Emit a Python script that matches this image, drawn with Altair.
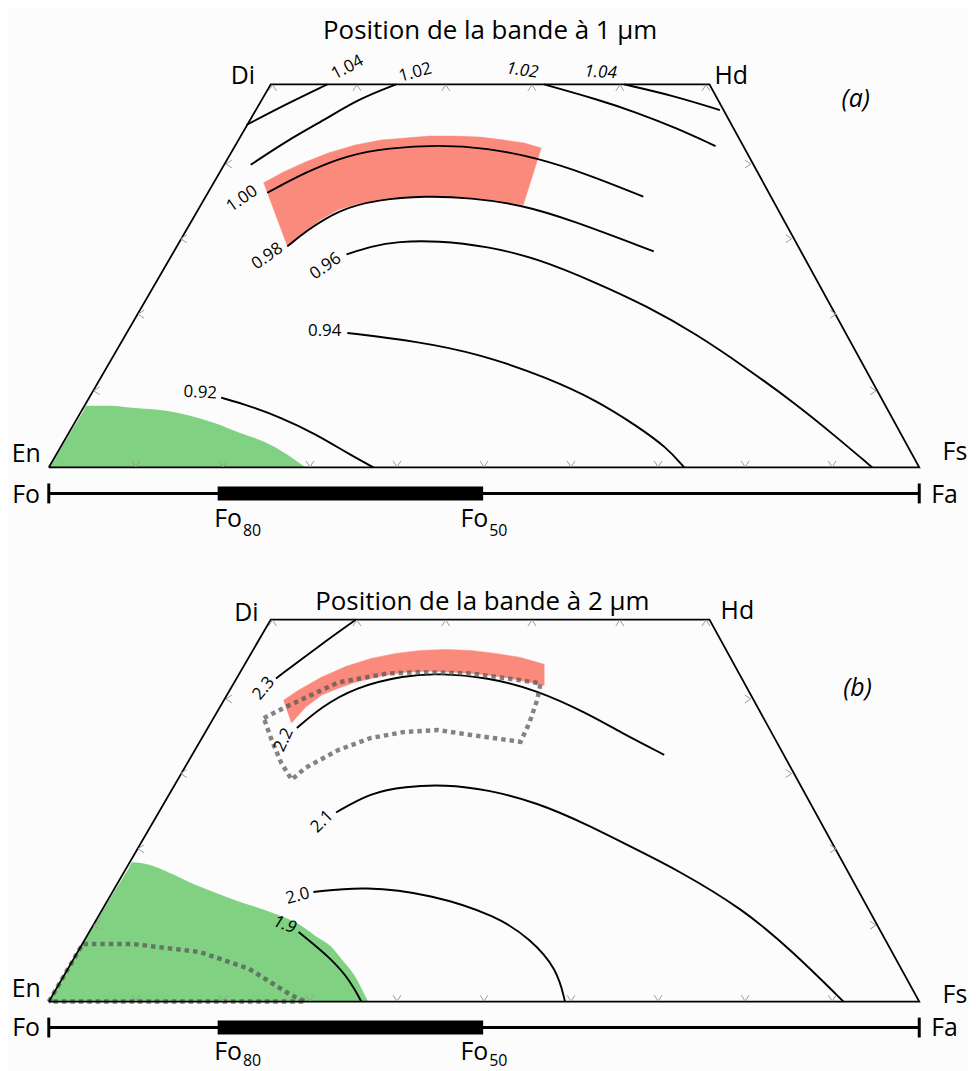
import altair as alt
import pandas as pd

# ---------------------------------------------------------------
# Plot units: x = 0 (En) .. 100 (Fs) along the base line,
#             y = 0 (base) .. 100 (Di-Hd edge, Wo50)
# ---------------------------------------------------------------
RED = "#fa8a7c"
GREEN = "#80d182"
FONT = "Open Sans"

FRAME_X = [0, 25.5, 75.9, 100, 0]
FRAME_Y = [0, 100, 100, 0, 0]

TICK_BOTTOM_X = [10, 20, 30, 40, 50, 60, 70, 80, 90]
TICK_TOP_X = [25.7, 35.4, 45.6, 55.5, 65.6, 75.5]
TICK_LEFT_X = [20.7, 15.5, 10.6, 5.5]
TICK_RIGHT_X = [80.3, 85.0, 90.1, 94.7]
TICK_SIDE_Y = [79.2, 59.7, 40.0, 20.0]

OLIVINE_Y = -6.8
OLIVINE_RANGE = [0, 100]
OLIVINE_RANGE_HI = [19.4, 49.9]      # Fo80 .. Fo50

# ---------------- panel (a) : 1 um band ----------------
A_C104L_X = [22.7, 27.5, 32.0]
A_C104L_Y = [89.4, 95.1, 100]
A_C102L_X = [23.2, 27.5, 31.8, 35.5, 39.9]
A_C102L_Y = [79.0, 85.5, 90.9, 96.1, 100]
A_C102R_X = [56.9, 63.0, 67.5, 72.1, 76.6]
A_C102R_Y = [100, 96.1, 92.7, 88.6, 83.9]
A_C104R_X = [66.1, 71.7, 77.1]
A_C104R_Y = [100, 97.1, 93.3]
A_C100_X = [25.1, 29.5, 34.4, 39.0, 44.7, 50.4, 56.1, 61.8, 68.3]
A_C100_Y = [71.7, 77.1, 81.6, 83.4, 84.2, 83.4, 80.8, 76.6, 70.7]
A_C098_X = [27.4, 29.5, 33.3, 37.8, 43.2, 48.5, 54.2, 59.9, 69.5]
A_C098_Y = [57.7, 61.6, 67.3, 69.9, 70.9, 70.4, 68.6, 64.7, 56.4]
A_C096_X = [34.2, 37.0, 40.1, 44.7, 50.4, 56.1, 63.0, 68.7, 74.4, 80.1, 85.8, 90.4, 94.6]
A_C096_Y = [55.6, 57.7, 59.0, 59.2, 57.7, 54.6, 48.1, 42.1, 34.8, 26.0, 16.6, 8.1, 0]
A_C094_X = [34.3, 42.1, 49.6, 57.3, 63.0, 67.5, 71.0, 73.0]
A_C094_Y = [35.1, 33.0, 29.6, 23.4, 17.4, 10.9, 5.2, 0]
A_C092_X = [19.8, 23.0, 26.7, 30.6, 34.4, 37.3]
A_C092_Y = [18.2, 16.1, 13.0, 8.8, 3.6, 0]

A_GREEN_X = [0, 4.0, 4.34, 6.97, 9.6, 13.49, 19.2, 21.83, 24.91, 27.2, 29.49]
A_GREEN_Y = [0, 14.8, 16.1, 16.1, 15.58, 14.81, 11.43, 9.09, 6.49, 3.64, 0]

A_RED_X = [24.69, 26.97, 29.49, 32.11, 35.2, 38.17, 40.91, 43.77, 46.63, 49.6, 52.34, 54.63, 56.57,
           54.51, 51.54, 48.46, 45.83, 43.2, 40.46, 37.83, 35.54, 33.26, 31.2, 29.49, 28.34, 27.43]
A_RED_Y = [74.29, 77.14, 79.74, 82.08, 84.16, 85.45, 85.97, 86.49, 86.49, 86.23, 85.45, 84.68, 83.38,
           68.57, 69.61, 70.39, 70.65, 70.91, 70.39, 69.87, 68.83, 67.27, 64.68, 61.56, 59.48, 57.66]

A_LABELS = ["1.04", "1.02", "1.00", "0.98", "0.96", "0.94", "0.92"]
A_LABEL_X = [34.3, 42.1, 22.2, 25.1, 31.8, 31.7, 17.4]
A_LABEL_Y = [104.4, 103.1, 70.1, 55.1, 52.5, 35.6, 19.5]
A_LABEL_ANGLE = [332, 345, 325, 325, 325, 0, 3]
A_ITALIC_LABELS = ["1.02", "1.04"]
A_ITALIC_X = [54.4, 63.4]
A_ITALIC_Y = [103.6, 103.1]
A_ITALIC_ANGLE = [8, 3]

A_TITLE = "Position de la bande à 1 µm"
A_TITLE_XY = [50.7, 114.0]
A_TAG = "(a)"
A_TAG_XY = [92.7, 96.1]
A_END_XY = {"Di": [22.3, 102.3], "Hd": [78.4, 102.3], "En": [-2.6, 3.6],
            "Fs": [104.1, 3.9], "Fo": [-2.6, -7.1], "Fa": [102.9, -7.1]}
A_FO_Y = -15.6
A_SUB_Y = -17.9

# ---------------- panel (b) : 2 um band ----------------
B_C23_X = [26.1, 31.0, 35.3]
B_C23_Y = [84.6, 93.0, 100]
B_C22_X = [28.5, 31.3, 35.2, 40.9, 44.7, 50.4, 56.1, 61.8, 65.6, 70.7]
B_C22_Y = [71.6, 77.1, 82.3, 85.4, 85.9, 84.9, 81.5, 75.5, 70.6, 64.6]
B_C21_X = [33.0, 37.0, 40.9, 45.5, 50.4, 56.1, 61.8, 67.5, 72.1, 79.8, 85.5, 91.3]
B_C21_Y = [49.5, 54.7, 56.3, 56.8, 55.5, 52.1, 46.4, 39.8, 34.6, 24.2, 13.0, 0]
B_C20_X = [30.4, 36.3, 43.9, 51.5, 55.3, 58.4, 59.3]
B_C20_Y = [28.7, 30.2, 28.1, 22.4, 16.4, 8.6, 0]
B_C19_X = [28.7, 32.5, 34.7, 35.9]
B_C19_Y = [18.2, 11.2, 5.2, 0]

B_GREEN_X = [0, 9.2, 9.6, 17.26, 21.03, 26.06, 28.69, 30.63, 32.46, 33.6, 34.74, 35.54, 36.11, 36.69]
B_GREEN_Y = [0, 35.0, 36.46, 30.21, 26.82, 22.92, 20.31, 17.19, 14.32, 11.2, 8.07, 5.21, 2.6, 0]

B_RED_X = [26.97, 28.69, 31.31, 34.17, 37.03, 39.89, 42.74, 45.6, 48.46, 51.31, 54.17, 56.91,
           56.91, 54.63, 52.34, 49.49, 46.63, 43.77, 40.91, 38.06, 35.2, 33.26, 31.31, 29.49, 27.89]
B_RED_Y = [78.91, 81.51, 84.9, 87.76, 89.84, 91.15, 91.93, 92.19, 91.93, 91.15, 90.1, 88.28,
           82.81, 83.85, 84.9, 85.68, 86.2, 86.46, 86.2, 85.16, 83.59, 82.03, 80.21, 77.08, 72.92]

B_DOT1_X = [24.7, 27.2, 33.3, 39.0, 42.7, 48.5, 54.2, 56.5, 56.1, 55.2, 54.2,
            48.5, 44.7, 40.9, 37.0, 33.3, 29.5, 27.9, 26.7, 25.6, 24.7]
B_DOT1_Y = [74.2, 77.1, 83.6, 85.9, 86.2, 85.9, 84.1, 83.3, 78.9, 72.9, 68.0,
            69.8, 71.1, 70.6, 69.0, 65.9, 61.2, 58.1, 62.5, 68.5, 74.2]
B_DOT2_X = [0, 3.9, 9.6, 17.3, 23.0, 27.9, 29.5, 0]
B_DOT2_Y = [0, 15.1, 15.1, 13.0, 8.6, 1.6, 0, 0]

B_LABELS = ["2.3", "2.2", "2.1", "2.0"]
B_LABEL_X = [24.7, 27.0, 31.4, 28.6]
B_LABEL_Y = [82.0, 68.5, 47.1, 27.6]
B_LABEL_ANGLE = [310, 295, 315, 345]
B_ITALIC_LABELS = ["1.9"]
B_ITALIC_X = [27.1]
B_ITALIC_Y = [20.1]
B_ITALIC_ANGLE = [20]

B_TITLE = "Position de la bande à 2 µm"
B_TITLE_XY = [49.8, 104.7]
B_TAG = "(b)"
B_TAG_XY = [92.9, 82.0]
B_END_XY = {"Di": [22.7, 101.6], "Hd": [79.1, 102.3], "En": [-2.6, 3.4],
            "Fs": [104.1, 1.8], "Fo": [-2.6, -7.0], "Fa": [102.9, -7.0]}
B_FO_Y = -15.2
B_SUB_Y = -16.8

FO_LABEL_X = [19.0, 47.3]
FO_SUB_X = [22.3, 50.6]
FO_SUBS = ["80", "50"]

# ---------------- layout ----------------
X_DOM = [-4.686, 105.03]
W = 960
A_YDOM, A_H = [-18.44, 119.22], 530
B_YDOM, B_H = [-15.63, 121.09], 525


def paths(series):
    rows = []
    for key, xs, ys in series:
        for i, (x, y) in enumerate(zip(xs, ys)):
            rows.append({"k": key, "i": i, "x": x, "y": y})
    return pd.DataFrame(rows)


def texts(ts, xs, ys, angles=None):
    if angles is None:
        angles = [0] * len(ts)
    return pd.DataFrame({"t": ts, "x": xs, "y": ys, "a": angles})


def panel(ydom, h, contours, green, red, dots, labels, italics,
          title, tag, ends, fo_y, sub_y):
    X = alt.X("x:Q", scale=alt.Scale(domain=X_DOM, nice=False, zero=False), axis=None)
    Y = alt.Y("y:Q", scale=alt.Scale(domain=ydom, nice=False, zero=False), axis=None)
    layers = []

    gdf = pd.DataFrame({"x": green[0], "y": green[1], "y0": 0})
    layers.append(alt.Chart(gdf).mark_area(color=GREEN, interpolate="monotone")
                  .encode(x=X, y=Y, y2="y0:Q"))

    rdf = paths([("red", red[0], red[1])])
    layers.append(alt.Chart(rdf).mark_line(color=RED, fill=RED, strokeWidth=0.5,
                                           interpolate="linear-closed")
                  .encode(x=X, y=Y, order="i:Q"))

    cdf = paths(contours)
    layers.append(alt.Chart(cdf).mark_line(color="black", strokeWidth=1.9,
                                           interpolate="basis")
                  .encode(x=X, y=Y, detail="k:N", order="i:Q"))

    if dots:
        ddf = paths(dots)
        layers.append(alt.Chart(ddf).mark_line(color="#555555", opacity=0.72, strokeWidth=4.5,
                                               strokeDash=[4.5, 4], interpolate="linear")
                      .encode(x=X, y=Y, detail="k:N", order="i:Q"))

    fdf = paths([("frame", FRAME_X, FRAME_Y)])
    layers.append(alt.Chart(fdf).mark_line(color="black", strokeWidth=1.8)
                  .encode(x=X, y=Y, order="i:Q"))

    # chevron ticks
    tick_specs = [
        (TICK_BOTTOM_X, [0.9] * len(TICK_BOTTOM_X), "M -1 -0.75 L 0 0.75 L 1 -0.75"),
        (TICK_TOP_X, [99.1] * len(TICK_TOP_X), "M -1 0.75 L 0 -0.75 L 1 0.75"),
        (TICK_LEFT_X, TICK_SIDE_Y, "M 0.75 -1 L -0.75 0 L 0.75 1"),
        (TICK_RIGHT_X, TICK_SIDE_Y, "M -0.75 -1 L 0.75 0 L -0.75 1"),
    ]
    for xs, ys, shape in tick_specs:
        tdf = pd.DataFrame({"x": xs, "y": ys})
        layers.append(alt.Chart(tdf).mark_point(shape=shape, size=64, filled=False,
                                                color="#9a9a9a", strokeWidth=1, opacity=1)
                      .encode(x=X, y=Y))

    # olivine bar
    odf = pd.DataFrame({"x": [OLIVINE_RANGE[0], OLIVINE_RANGE_HI[0]],
                        "x2": [OLIVINE_RANGE[1], OLIVINE_RANGE_HI[1]],
                        "y": [OLIVINE_Y, OLIVINE_Y], "w": [3, 14]})
    layers.append(alt.Chart(odf).mark_rule(color="black")
                  .encode(x=X, x2="x2:Q", y=Y, strokeWidth=alt.StrokeWidth("w:Q", scale=None)))
    cap = pd.DataFrame({"x": OLIVINE_RANGE, "y": [OLIVINE_Y + 2.6] * 2,
                        "y2": [OLIVINE_Y - 2.6] * 2})
    layers.append(alt.Chart(cap).mark_rule(color="black", strokeWidth=3)
                  .encode(x=X, y=Y, y2="y2:Q"))

    # contour labels
    ldf = texts(*labels)
    layers.append(alt.Chart(ldf).mark_text(font=FONT, fontSize=17, color="black")
                  .encode(x=X, y=Y, text="t:N", angle=alt.Angle("a:Q", scale=None)))
    idf = texts(*italics)
    layers.append(alt.Chart(idf).mark_text(font=FONT, fontSize=17, fontStyle="italic",
                                           color="black")
                  .encode(x=X, y=Y, text="t:N", angle=alt.Angle("a:Q", scale=None)))

    # end members, title and panel tag
    names = list(ends.keys())
    edf = texts(names, [ends[n][0] for n in names], [ends[n][1] for n in names])
    layers.append(alt.Chart(edf).mark_text(font=FONT, fontSize=25, color="black")
                  .encode(x=X, y=Y, text="t:N"))
    tdf = texts([title[0]], [title[1][0]], [title[1][1]])
    layers.append(alt.Chart(tdf).mark_text(font=FONT, fontSize=26, color="black")
                  .encode(x=X, y=Y, text="t:N"))
    gdf2 = texts([tag[0]], [tag[1][0]], [tag[1][1]])
    layers.append(alt.Chart(gdf2).mark_text(font=FONT, fontSize=25, fontStyle="italic",
                                            color="black")
                  .encode(x=X, y=Y, text="t:N"))

    # Fo80 / Fo50
    fdf2 = texts(["Fo", "Fo"], FO_LABEL_X, [fo_y, fo_y])
    layers.append(alt.Chart(fdf2).mark_text(font=FONT, fontSize=25, color="black",
                                            align="left", baseline="alphabetic")
                  .encode(x=X, y=Y, text="t:N"))
    sdf = texts(FO_SUBS, FO_SUB_X, [sub_y, sub_y])
    layers.append(alt.Chart(sdf).mark_text(font=FONT, fontSize=16, color="black",
                                           align="left", baseline="alphabetic")
                  .encode(x=X, y=Y, text="t:N"))

    return alt.layer(*layers).properties(width=W, height=h)


panel_a = panel(
    A_YDOM, A_H,
    [("104L", A_C104L_X, A_C104L_Y), ("102L", A_C102L_X, A_C102L_Y),
     ("102R", A_C102R_X, A_C102R_Y), ("104R", A_C104R_X, A_C104R_Y),
     ("100", A_C100_X, A_C100_Y), ("098", A_C098_X, A_C098_Y),
     ("096", A_C096_X, A_C096_Y), ("094", A_C094_X, A_C094_Y),
     ("092", A_C092_X, A_C092_Y)],
    (A_GREEN_X, A_GREEN_Y), (A_RED_X, A_RED_Y), None,
    (A_LABELS, A_LABEL_X, A_LABEL_Y, A_LABEL_ANGLE),
    (A_ITALIC_LABELS, A_ITALIC_X, A_ITALIC_Y, A_ITALIC_ANGLE),
    (A_TITLE, A_TITLE_XY), (A_TAG, A_TAG_XY), A_END_XY, A_FO_Y, A_SUB_Y)

panel_b = panel(
    B_YDOM, B_H,
    [("23", B_C23_X, B_C23_Y), ("22", B_C22_X, B_C22_Y), ("21", B_C21_X, B_C21_Y),
     ("20", B_C20_X, B_C20_Y), ("19", B_C19_X, B_C19_Y)],
    (B_GREEN_X, B_GREEN_Y), (B_RED_X, B_RED_Y),
    [("dot1", B_DOT1_X, B_DOT1_Y), ("dot2", B_DOT2_X, B_DOT2_Y)],
    (B_LABELS, B_LABEL_X, B_LABEL_Y, B_LABEL_ANGLE),
    (B_ITALIC_LABELS, B_ITALIC_X, B_ITALIC_Y, B_ITALIC_ANGLE),
    (B_TITLE, B_TITLE_XY), (B_TAG, B_TAG_XY), B_END_XY, B_FO_Y, B_SUB_Y)

chart = (alt.vconcat(panel_a, panel_b, spacing=0)
         .properties(padding=0, background="#fcfcfc")
         .configure_view(stroke=None)
         .configure_concat(spacing=0))

chart.save("out.html", embed_options={"renderer": "svg", "actions": False})
